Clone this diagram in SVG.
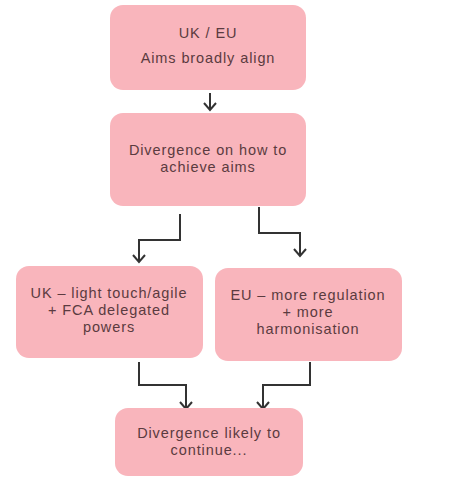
<svg xmlns="http://www.w3.org/2000/svg" width="454" height="477" viewBox="0 0 454 477">
<defs>
<style>
.box{fill:#f9b5bc;}
.t{font-family:"Liberation Sans",Arial,sans-serif;font-size:14.5px;letter-spacing:0.9px;fill:#5b3b40;text-anchor:middle;}
.c{fill:none;stroke:#333333;stroke-width:2;}
</style>
</defs>
<rect width="454" height="477" fill="#ffffff"/>
<g id="connectors">
<path class="c" d="M210,93 V110"/>
<path class="c" d="M204,103 L210,110 L216,103"/>
<path class="c" d="M180,214 V240 H139 V262"/>
<path class="c" d="M133,255 L139,262 L145,255"/>
<path class="c" d="M259,207 V233 H300 V256"/>
<path class="c" d="M294,249 L300,256 L306,249"/>
<path class="c" d="M139,362 V385 H186 V409"/>
<path class="c" d="M180,402 L186,409 L192,402"/>
<path class="c" d="M310,362 V385 H263 V409"/>
<path class="c" d="M257,402 L263,409 L269,402"/>
</g>
<g id="n1">
<rect class="box" x="110" y="5" width="196" height="85" rx="13"/>
<text class="t" x="208" y="38">UK / EU</text>
<text class="t" x="208" y="63">Aims broadly align</text>
</g>
<g id="n2">
<rect class="box" x="110" y="113" width="196" height="93" rx="13"/>
<text class="t" x="208" y="155">Divergence on how to</text>
<text class="t" x="208" y="172">achieve aims</text>
</g>
<g id="n3">
<rect class="box" x="16" y="266" width="187" height="92" rx="13"/>
<text class="t" x="109" y="298">UK – light touch/agile</text>
<text class="t" x="109" y="315">+ FCA delegated</text>
<text class="t" x="109" y="332">powers</text>
</g>
<g id="n4">
<rect class="box" x="215" y="268" width="187" height="93" rx="13"/>
<text class="t" x="308" y="300">EU – more regulation</text>
<text class="t" x="308" y="317">+ more</text>
<text class="t" x="308" y="334">harmonisation</text>
</g>
<g id="n5">
<rect class="box" x="115" y="408" width="188" height="68" rx="13"/>
<text class="t" x="209" y="438">Divergence likely to</text>
<text class="t" x="209" y="455">continue...</text>
</g>
</svg>
